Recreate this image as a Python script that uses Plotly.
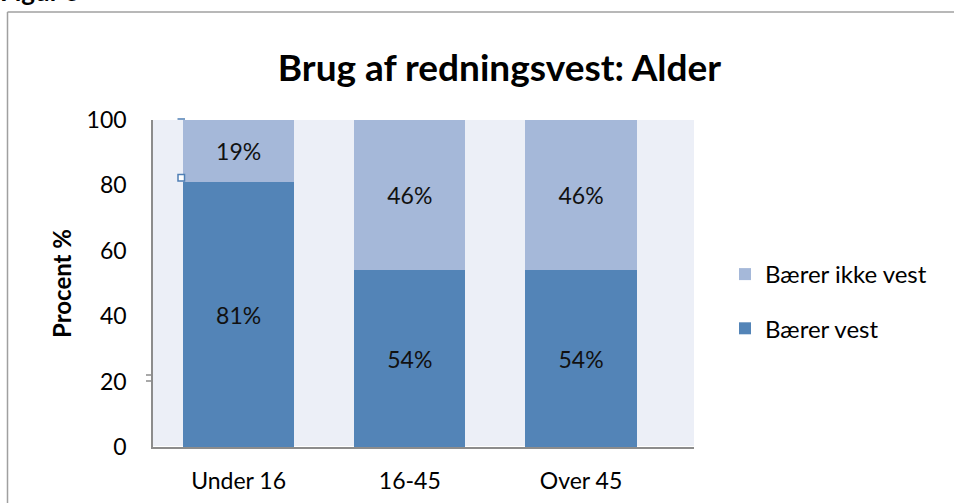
import plotly.graph_objects as go

categories = ["Under 16", "16-45", "Over 45"]
baerer_vest = [81, 54, 54]
baerer_ikke_vest = [19, 46, 46]
y_ticks = [0, 20, 40, 60, 80, 100]

FONT = "Lato"
dark = "#5384B7"
light = "#A5B8D9"

# plot-area pixel frame (page coordinates)
PL, PR, PT, PB = 153, 694, 120, 447
W, H = 954, 503


def px(x):
    return (x - PL) / (PR - PL)


def py(y):
    return (PB - y) / (PB - PT)


fig = go.Figure()
fig.add_trace(go.Bar(
    x=categories, y=baerer_vest, name="Bærer vest",
    marker=dict(color=dark, line=dict(width=0)),
    text=[f"{v}%" for v in baerer_vest], textposition="inside",
    insidetextanchor="middle",
    textfont=dict(family=FONT, size=23, color="#111111"),
    legendgroup="vest", legendrank=2,
))
fig.add_trace(go.Bar(
    x=categories, y=baerer_ikke_vest, name="Bærer ikke vest",
    marker=dict(color=light, line=dict(width=0)),
    text=[f"{v}%" for v in baerer_ikke_vest], textposition="inside",
    insidetextanchor="middle",
    textfont=dict(family=FONT, size=23, color="#111111"),
    legendgroup="ikke", legendrank=1,
))

fig.update_layout(
    width=W, height=H,
    barmode="stack", bargap=0.35,
    paper_bgcolor="white", plot_bgcolor="#ECEFF7",
    margin=dict(l=PL, r=W - PR, t=PT, b=H - PB, autoexpand=False),
    font=dict(family=FONT, size=23, color="black"),
    title=dict(text="<b>Brug af redningsvest: Alder</b>", x=499.5 / W, xanchor="center",
               y=1 - 68 / H, yanchor="middle",
               font=dict(family=FONT, size=37, color="black")),
    showlegend=True,
    legend=dict(x=px(725), xanchor="left", y=py(301.5), yanchor="middle",
                traceorder="grouped", tracegroupgap=20,
                font=dict(family=FONT, size=24), bgcolor="rgba(0,0,0,0)"),
    xaxis=dict(range=[-0.5, 2.66], showgrid=False, showline=True, linecolor="#8C8C8C",
               linewidth=1.5, ticks="", ticklabelstandoff=13, automargin=False,
               tickfont=dict(family=FONT, size=23)),
    yaxis=dict(range=[0, 100], tickvals=y_ticks, showgrid=False, showline=True,
               linecolor="#8C8C8C", linewidth=1.5, ticks="", ticklabelstandoff=20,
               automargin=False,
               tickfont=dict(family=FONT, size=23),
               title=dict(text="<b>Procent %</b>", standoff=8,
                          font=dict(family=FONT, size=24))),
)

# "Figur 5" label, cut off at the top edge like in the reference
fig.add_annotation(text="<b>Figur 5</b>", xref="paper", yref="paper",
                   x=px(-2), xanchor="left",
                   y=py(9), yanchor="bottom", showarrow=False,
                   font=dict(family=FONT, size=26, color="black"))

# outer border (extends beyond visible area)
border = dict(color="#A0A0A0", width=1.5)
fig.add_shape(type="line", xref="paper", yref="paper",
              x0=px(7.5), x1=px(7.5), y0=py(12), y1=py(520), line=border)
fig.add_shape(type="line", xref="paper", yref="paper",
              x0=px(7.5), x1=px(970), y0=py(12), y1=py(12), line=border)

# small selection-handle artefacts visible in the reference
fig.add_shape(type="rect", xref="paper", yref="paper",
              x0=px(178), x1=px(184.5), y0=py(174.5), y1=py(181),
              fillcolor="white", line=dict(color="#4F7FB5", width=1.5))
fig.add_shape(type="line", xref="paper", yref="paper",
              x0=px(177.5), x1=px(185), y0=py(119), y1=py(119),
              line=dict(color="#4F7FB5", width=1.5))
for yy in (375, 381):
    fig.add_shape(type="line", xref="paper", yref="paper",
                  x0=px(146), x1=px(153), y0=py(yy), y1=py(yy),
                  line=dict(color="#8C8C8C", width=1.5))

fig.write_html("out.html", config={"displayModeBar": False},
               post_script="document.body.style.margin='0';")
